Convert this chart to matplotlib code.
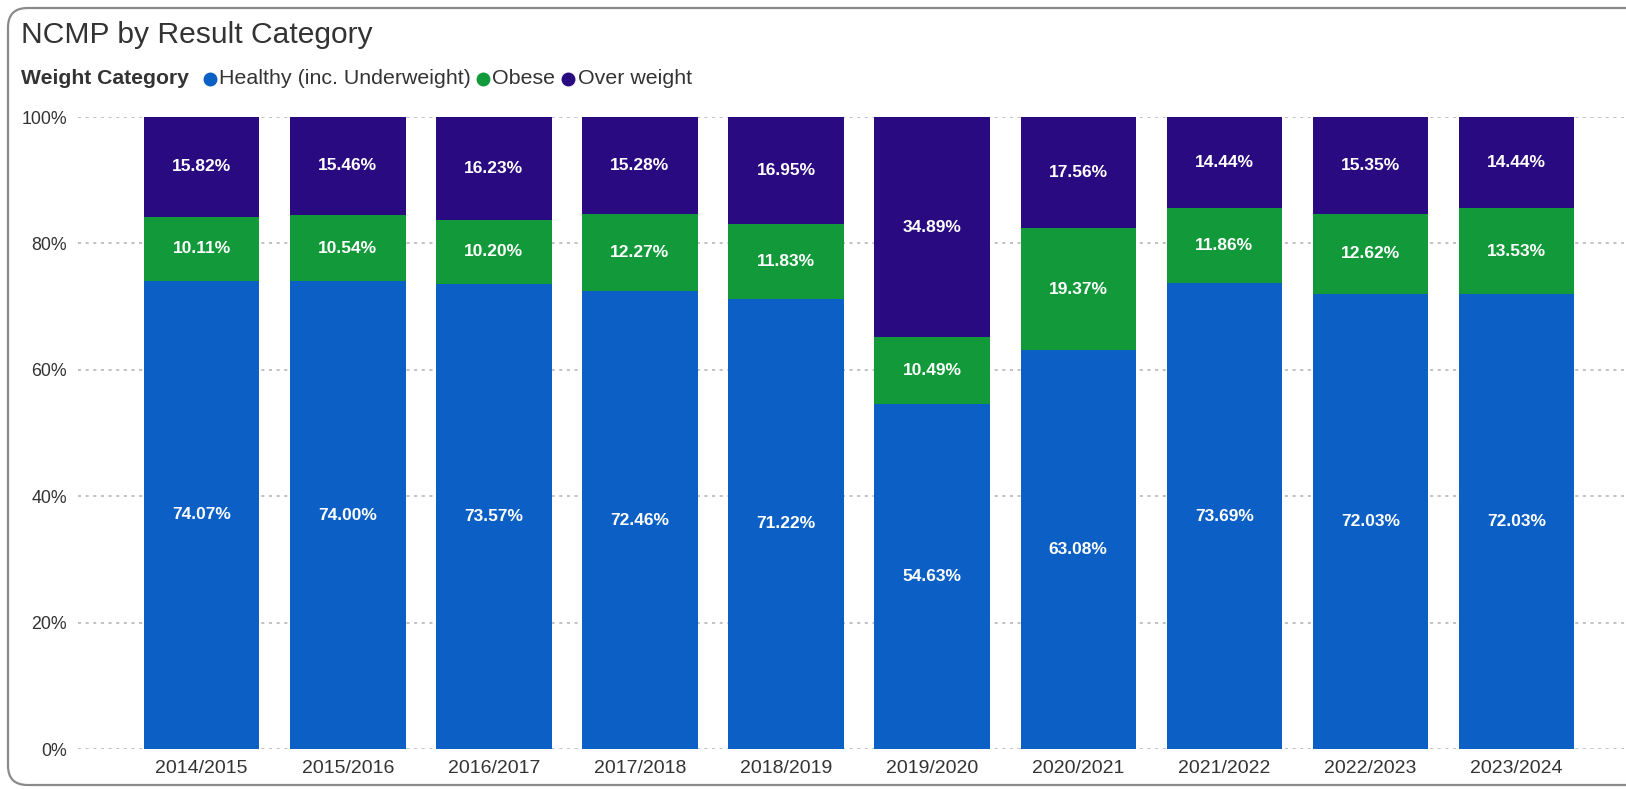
import matplotlib
matplotlib.use("Agg")
import matplotlib.pyplot as plt
from matplotlib.patches import FancyBboxPatch
from matplotlib.lines import Line2D
import numpy as np

years = ["2014/2015", "2015/2016", "2016/2017", "2017/2018", "2018/2019",
         "2019/2020", "2020/2021", "2021/2022", "2022/2023", "2023/2024"]
healthy = [74.07, 74.00, 73.57, 72.46, 71.22, 54.63, 63.08, 73.69, 72.03, 72.03]
obese = [10.11, 10.54, 10.20, 12.27, 11.83, 10.49, 19.37, 11.86, 12.62, 13.53]
overweight = [15.82, 15.46, 16.23, 15.28, 16.95, 34.89, 17.56, 14.44, 15.35, 14.44]
series_names = ["Healthy (inc. Underweight)", "Obese", "Over weight"]
y_ticks = [0, 20, 40, 60, 80, 100]

colors = ["#0C5FC4", "#129A3A", "#2A0A80"]
FONT = ["Liberation Sans", "DejaVu Sans"]
plt.rcParams["font.family"] = FONT

W, H = 1626, 789
fig = plt.figure(figsize=(W / 100, H / 100), dpi=100)
fig.patch.set_facecolor("white")

# outer rounded border
border = FancyBboxPatch((8 / W, 4 / H), 1.2, (H - 12) / H,
                        boxstyle="round,pad=0,rounding_size=0.012",
                        transform=fig.transFigure, fill=False,
                        edgecolor="#8a8a8a", linewidth=1.6, mutation_aspect=W / H)
fig.patches.append(border)

ax = fig.add_axes([78 / W, 1 - 749 / H, (W - 78) / W, (749 - 117) / H])
x = np.arange(len(years))
width = 0.79
vals = [np.array(healthy), np.array(obese), np.array(overweight)]
bottom = np.zeros(len(years))
for v, c in zip(vals, colors):
    ax.bar(x, v, width, bottom=bottom, color=c, zorder=3, linewidth=0)
    for xi, b, vi in zip(x, bottom, v):
        ax.text(xi, b + vi / 2, f"{vi:.2f}%", ha="center", va="center",
                color="white", fontsize=12.5, fontweight="bold", zorder=4)
    bottom = bottom + v

ax.set_xlim(-0.847, 9.75)
ax.set_ylim(0, 100)
ax.set_yticks(y_ticks)
ax.set_yticklabels([f"{t}%" for t in y_ticks])
ax.set_xticks(x)
ax.set_xticklabels(years)
ax.tick_params(axis="both", length=0, labelcolor="#333333")
ax.tick_params(axis="x", pad=8, labelsize=14)
ax.tick_params(axis="y", pad=8, labelsize=12.8)
ax.grid(axis="y", color="#b0b0b0", linestyle=(0, (2, 3)), linewidth=1.1, zorder=0)
for s in ax.spines.values():
    s.set_visible(False)
ax.set_facecolor("none")

# title
fig.text(21 / W, 1 - 35 / H, "NCMP by Result Category", fontsize=21.6,
         color="#333333", ha="left", va="center")

# legend
ly = 1 - 79 / H
fig.text(21 / W, ly, "Weight Category", fontsize=15.2, fontweight="bold",
         color="#333333", ha="left", va="center")
leg_pos = [(210, 219), (483, 492), (568, 578)]
for (mx, tx), name, c in zip(leg_pos, series_names, colors):
    fig.add_artist(Line2D([mx / W], [ly], marker="o", markersize=9,
                          color=c, linestyle="none", transform=fig.transFigure))
    fig.text(tx / W, ly, name, fontsize=15.4, color="#333333", ha="left", va="center")

fig.savefig("out.png", dpi=100)
